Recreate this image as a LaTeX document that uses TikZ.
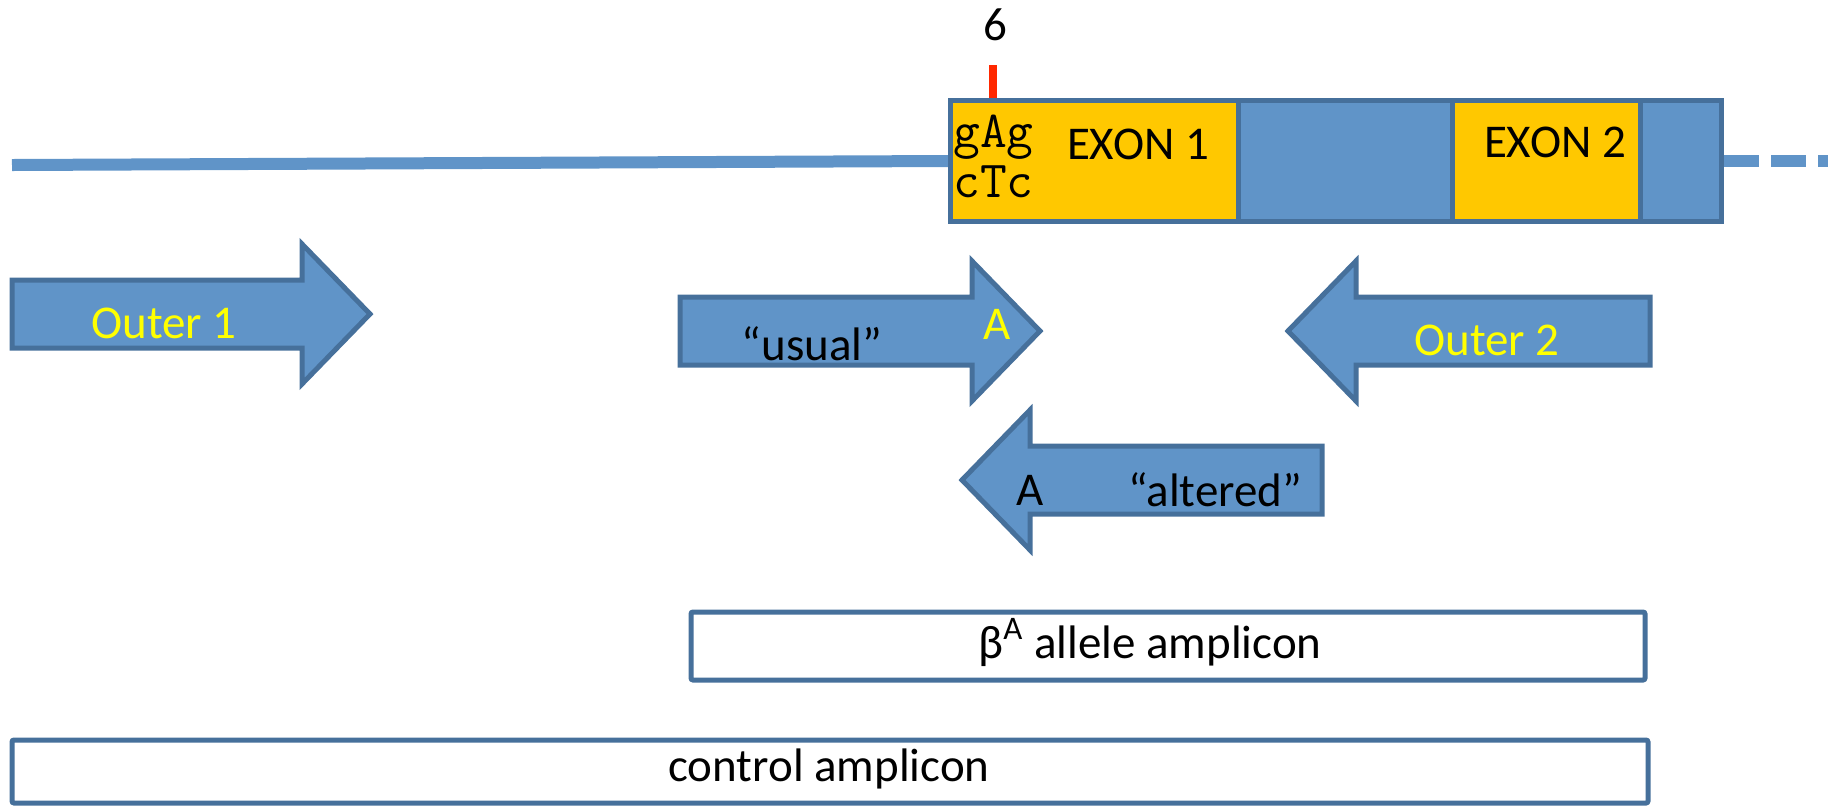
\documentclass[tikz,border=0pt]{standalone}
\usepackage{fontspec}
\setmainfont{Carlito}
\definecolor{strand}{RGB}{96,148,200}
\definecolor{rim}{RGB}{70,112,155}
\definecolor{exon}{RGB}{255,200,0}
\definecolor{codonred}{RGB}{255,40,0}
\definecolor{primertext}{RGB}{255,255,0}

% primer arrows: tail x, tip x, centre y
\newcommand{\fwdarrow}[3]{%
  \draw[primer] (#1,#3-34) -- (#2-68,#3-34) -- (#2-68,#3-70) -- (#2,#3)
    -- (#2-68,#3+70) -- (#2-68,#3+34) -- (#1,#3+34) -- cycle;}
% tip x, tail x, centre y
\newcommand{\revarrow}[3]{%
  \draw[primer] (#2,#3-34) -- (#1+68,#3-34) -- (#1+68,#3-70) -- (#1,#3)
    -- (#1+68,#3+70) -- (#1+68,#3+34) -- (#2,#3+34) -- cycle;}

\begin{document}
\begin{tikzpicture}[x=0.5pt,y=-0.5pt,
    primer/.style={draw=rim,fill=strand,line width=2.5pt},
    gene/.style={draw=rim,line width=2.5pt},
    amplicon/.style={draw=rim,fill=white,line width=2.5pt,rounded corners=1pt},
    lbl/.style={inner sep=0pt,anchor=base,font=\fontsize{23.5}{27}\selectfont},
    seq/.style={inner sep=0pt,anchor=base west,font=\ttfamily\fontsize{26}{30}\selectfont}]
  \useasboundingbox (0,0) rectangle (1837,805);

  % genomic strand
  \draw[strand,line width=6pt] (12,165) -- (948,161);
  \draw[strand,line width=6pt,dash pattern=on 17.5pt off 6pt] (1724,161) -- (1828,161);

  % gene
  \fill[exon] (950,100) rectangle (1238,221);
  \fill[strand] (1238,100) rectangle (1452,221);
  \fill[exon] (1452,100) rectangle (1640,221);
  \fill[strand] (1640,100) rectangle (1721,221);
  \draw[gene] (950,100) rectangle (1721,221);
  \draw[gene] (1238,100) -- (1238,221) (1452,100) -- (1452,221) (1640,100) -- (1640,221);
  \node[lbl] (exon1) at (1138,159) {EXON 1};
  \node[lbl] (exon2) at (1555,157) {EXON 2};
  \node[seq] (gAg) at (953,147) {gAg};
  \node[seq] (cTc) at (953,197) {cTc};

  % codon 6
  \draw[codonred,line width=4pt] (993,65) -- (993,98);
  \node[lbl] (six) at (995,40) {6};

  % primers
  \fwdarrow{12}{370}{314}
  \fwdarrow{680}{1040}{331}
  \revarrow{1288}{1650}{331}
  \revarrow{962}{1322}{480}
  \node[lbl,text=primertext] (outer1) at (164,338) {Outer 1};
  \node[lbl,text=primertext] (outer2) at (1487,355) {Outer 2};
  \node[lbl] (usual) at (812,360) {“usual”};
  \node[lbl,text=primertext] (usualA) at (997,339) {A};
  \node[lbl] (alteredA) at (1030,505) {A};
  \node[lbl] (altered) at (1215,506) {“altered”};

  % amplicons
  \draw[amplicon] (691,612) rectangle (1645,680);
  \node[lbl] (beta) at (1150,658) {β\textsuperscript{A} allele amplicon};
  \draw[amplicon] (12,740) rectangle (1648,803);
  \node[lbl] (control) at (829,781) {control amplicon};
\end{tikzpicture}
\end{document}
